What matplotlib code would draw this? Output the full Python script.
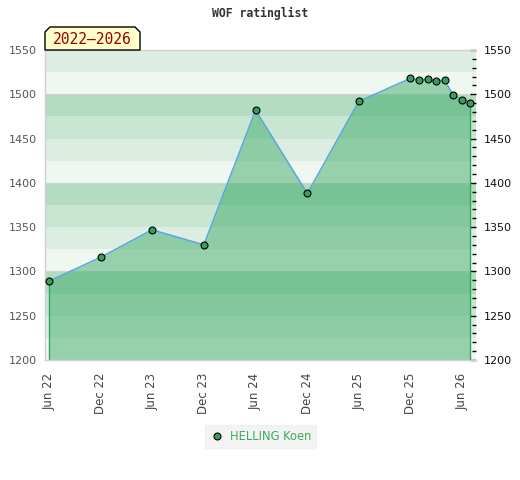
import matplotlib
matplotlib.use("Agg")
import matplotlib.pyplot as plt
import matplotlib.dates as mdates
from matplotlib.patches import Polygon
from matplotlib.ticker import MultipleLocator
import datetime as dt

# ---- data ----
dates = ["2022-06-01", "2022-12-01", "2023-06-01", "2023-12-01", "2024-06-01",
         "2024-12-01", "2025-06-01", "2025-12-01", "2026-01-01", "2026-02-01",
         "2026-03-01", "2026-04-01", "2026-05-01", "2026-06-01", "2026-07-01"]
ratings = [1289, 1316, 1347, 1330, 1482, 1388, 1492, 1518, 1516, 1517,
           1515, 1516, 1499, 1494, 1490]
tick_dates = ["2022-06-01", "2022-12-01", "2023-06-01", "2023-12-01", "2024-06-01",
              "2024-12-01", "2025-06-01", "2025-12-01", "2026-06-01"]
y_ticks = [1200, 1250, 1300, 1350, 1400, 1450, 1500, 1550]
player = "HELLING Koen"
title = "WOF ratinglist"
period_label = "2022\u20132026"

x = [dt.datetime.strptime(d, "%Y-%m-%d") for d in dates]
xt = [dt.datetime.strptime(d, "%Y-%m-%d") for d in tick_dates]

fig = plt.figure(figsize=(5.2, 4.8), dpi=100)
ax = fig.add_axes([45/520, 1-360/480, 430.5/520, 310/480])

ymin, ymax = 1200, 1550
band_colors = {75: "#b3dcc1", 50: "#c8e6d2", 25: "#dcede2", 0: "#eff7f1"}
for lo in range(ymin, ymax, 25):
    ax.axhspan(lo, lo + 25, color=band_colors[lo % 100], lw=0, zorder=0)
for g in range(1300, 1550, 100):
    ax.axhline(g, color="#d2d2d2", lw=0.8, zorder=0.5)

ax.fill_between(x, ratings, ymin, color="#3fac69", alpha=0.5, lw=0, zorder=1)
ax.vlines([x[0], x[-1]], ymin, [ratings[0], ratings[-1]], color="#2fa55a", lw=1, zorder=2)
ax.plot(x, ratings, color="#5ba6dc", lw=1.1, zorder=3)
ax.plot(x, ratings, ls="none", marker="o", ms=5, mfc="#3a9e5a", mec="black",
        mew=0.8, zorder=4, label=player)

ax.set_ylim(ymin, ymax)
ax.set_xlim(x[0] - dt.timedelta(days=14), x[-1] + dt.timedelta(days=18))

ax.set_xticks(xt)
ax.xaxis.set_major_formatter(mdates.DateFormatter("%b %y"))
ax.tick_params(axis="x", length=0, pad=9, labelsize=8.5, labelcolor="#444444",
               labelrotation=90)

ax.set_yticks(y_ticks)
ax.yaxis.set_minor_locator(MultipleLocator(10))
ax.tick_params(axis="y", which="both", left=False, right=True, labelleft=True,
               labelright=True, direction="in", labelsize=8)
ax.tick_params(axis="y", which="major", length=4, width=1, color="black", pad=6)
ax.tick_params(axis="y", which="minor", length=3, width=1, color="black")
for t in ax.yaxis.get_major_ticks():
    t.label1.set_color("#555555")
    t.label2.set_color("#111111")

for s in ["left", "bottom", "top"]:
    ax.spines[s].set_color("#d0d0d0")
    ax.spines[s].set_linewidth(1)
ax.spines["right"].set_visible(False)

fig.text(0.5, 1 - 13/480, title, ha="center", va="center",
         family="DejaVu Sans Mono", fontweight="bold", fontsize=8.3, color="#333333")

# period label box with clipped top corners
x0, x1 = 45/520, 140/520
y0, y1 = 1 - 50/480, 1 - 27/480
cx, cy = 5/520, 5/480
poly = Polygon([(x0, y0), (x0, y1 - cy), (x0 + cx, y1), (x1 - cx, y1),
                (x1, y1 - cy), (x1, y0)], closed=True, transform=fig.transFigure,
               facecolor="#ffffcc", edgecolor="black", lw=1, zorder=5)
fig.patches.append(poly)
fig.text((x0 + x1)/2, (y0 + y1)/2 - 1/480, period_label, ha="center", va="center",
         family="DejaVu Sans Mono", fontsize=10.5, color="#990000", zorder=6)

leg = fig.legend(loc="center", bbox_to_anchor=(260.5/520, 1 - 436.5/480),
                 frameon=True, fontsize=8.3, handletextpad=0.5, borderpad=0.4,
                 handlelength=1.3, fancybox=False)
leg.get_frame().set_facecolor("#f0f0f0")
leg.get_frame().set_edgecolor("#f0f0f0")
for t in leg.get_texts():
    t.set_color("#3aaa5e")

fig.savefig("out.png", dpi=100)
